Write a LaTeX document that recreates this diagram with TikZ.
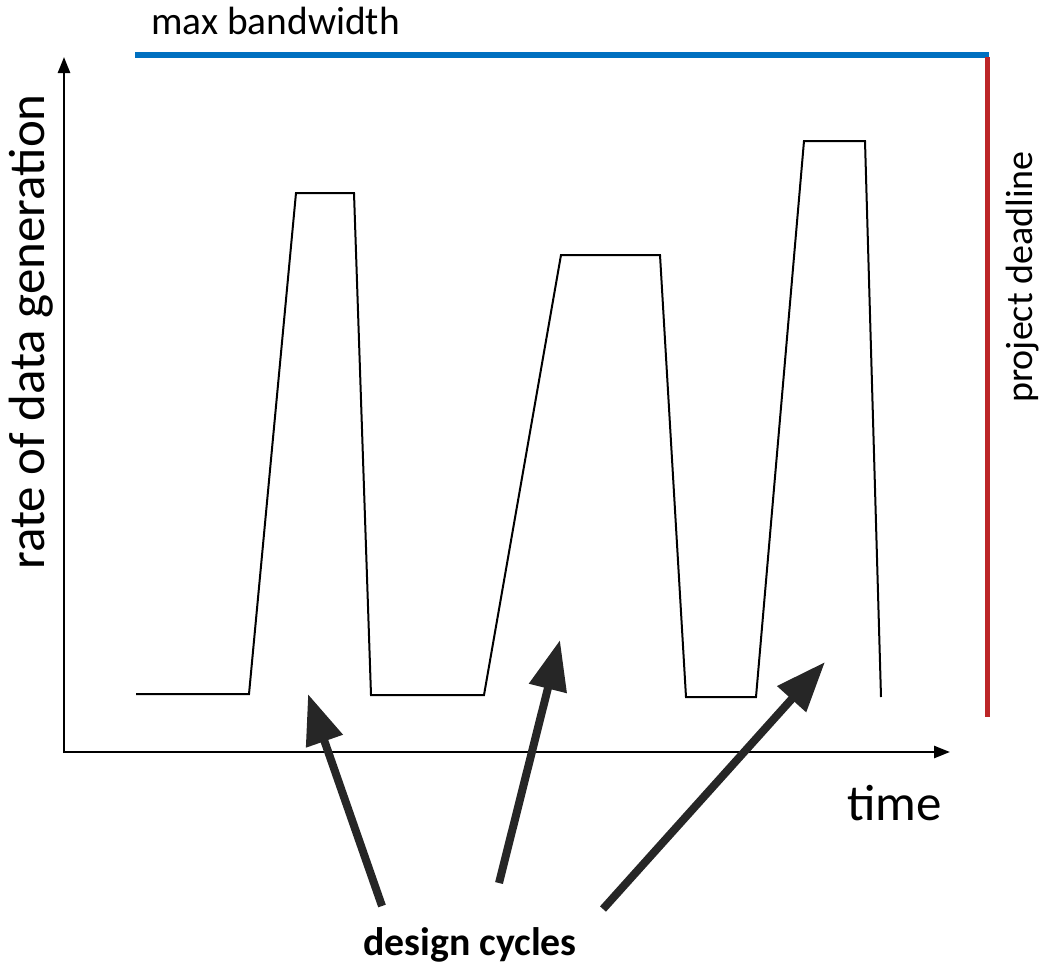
\documentclass[tikz,border=0pt]{standalone}
\usepackage{fontspec}
\setmainfont{Carlito}
\usetikzlibrary{arrows.meta}
\definecolor{bwblue}{RGB}{0,112,192}
\definecolor{dlred}{RGB}{188,38,40}
\definecolor{arrgray}{RGB}{38,38,38}
\tikzset{
  axisline/.style={line width=2.5pt,-{Triangle[length=16pt,width=12pt]}},
  signal/.style={line width=2pt,line join=miter},
  bigarrow/.style={arrgray,line width=8pt,-{Triangle[length=50pt,width=37pt]}},
  lbl/.style={inner sep=0pt,text=black},
}
\begin{document}
\begin{tikzpicture}[x=1pt,y=-1pt]
\useasboundingbox (0,0) rectangle (1042,967);
% axes
\coordinate (origin) at (64,752);
\coordinate (ytip) at (64,57);
\coordinate (xtip) at (950,752);
\draw[axisline] (64,753) -- (ytip);
\draw[axisline] (63,752) -- (xtip);
% limits
\coordinate (bwL) at (135,55);
\coordinate (bwR) at (989,55);
\coordinate (dlT) at (987,57);
\coordinate (dlB) at (987,717);
\draw[bwblue,line width=5.5pt] (bwL) -- (bwR);
\draw[dlred,line width=5pt] (dlT) -- (dlB);
% signal
\draw[signal] (136,694) -- (249,694) -- (296,193) -- (354,193) -- (371,695)
  -- (484,695) -- (561,255) -- (660,255) -- (686,697) -- (756,697)
  -- (804,141) -- (865,141) -- (881,697);
% labels
\node[lbl,anchor=base west,font=\fontsize{39.4}{47}\selectfont] (bw) at (151,34) {max bandwidth};
\node[lbl,anchor=base,rotate=90,font=\fontsize{51}{60}\selectfont] (rate) at (44,332) {rate of data generation};
\node[lbl,anchor=base west,font=\fontsize{51}{60}\selectfont] (time) at (847,820) {time};
\node[lbl,anchor=base,rotate=90,font=\fontsize{38}{46}\selectfont] (dl) at (1032,277) {project deadline};
\node[lbl,anchor=base,font=\fontsize{39.8}{47}\selectfont\bfseries] (dc) at (470,955) {design cycles};
% design-cycle arrows
\coordinate (t1) at (382,906);
\coordinate (h1) at (308,694);
\coordinate (t2) at (499,883);
\coordinate (h2) at (560,640);
\coordinate (t3) at (603,909);
\coordinate (h3) at (825,662);
\draw[bigarrow] (t1) -- (h1);
\draw[bigarrow] (t2) -- (h2);
\draw[bigarrow] (t3) -- (h3);
\end{tikzpicture}
\end{document}
